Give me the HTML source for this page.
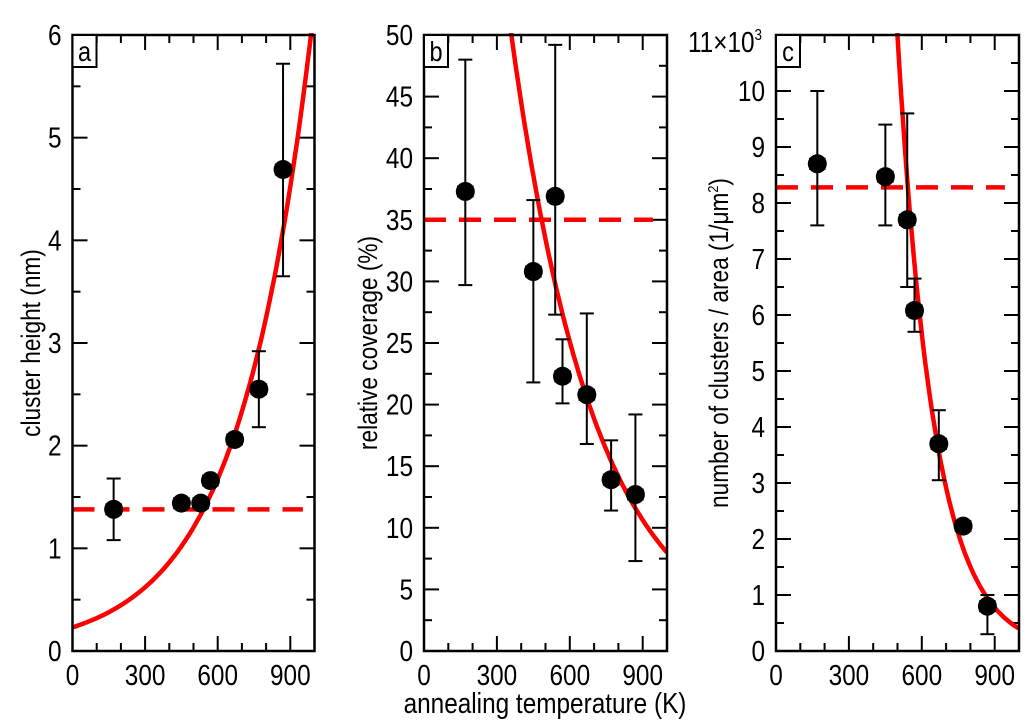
<!DOCTYPE html>
<html><head><meta charset="utf-8"><style>
body{margin:0;background:#fff}
svg{display:block}
text{font-family:"Liberation Sans",sans-serif;fill:#000}
</style></head><body>
<svg id="c" width="1024" height="724" viewBox="0 0 1024 724" xmlns="http://www.w3.org/2000/svg"></svg>
<script>
// Panel a: cluster height (nm)
const aT=[170,450,530,570,670,770,870];
const aY=[1.38,1.44,1.44,1.66,2.06,2.55,4.69];
const aLo=[1.08,1.40,1.40,1.62,2.02,2.18,3.65];
const aHi=[1.68,1.48,1.48,1.70,2.10,2.92,5.72];
const aDash=1.38;
// Panel b: relative coverage (%)
const bT=[170,450,540,570,670,770,870];
const bY=[37.3,30.8,36.9,22.3,20.8,13.9,12.7];
const bLo=[29.7,21.8,27.3,20.1,16.8,11.4,7.3];
const bHi=[48,36.6,49.2,25.3,27.4,17.1,19.2];
const bDash=35;
// Panel c: clusters / area (x1e3)
const cT=[170,450,540,570,670,770,870];
const cY=[8.7,8.47,7.7,6.08,3.7,2.23,0.8];
const cLo=[7.6,7.6,6.5,5.7,3.05,2.15,0.3];
const cHi=[10.0,9.4,9.6,6.65,4.3,2.31,1.0];
const cDash=8.28;
const xTicks=[0,300,600,900];
const aTicks=[0,1,2,3,4,5,6];
const bTicks=[0,5,10,15,20,25,30,35,40,45,50];
const cTicks=[0,1,2,3,4,5,6,7,8,9,10];
const xErr=30;

const NS="http://www.w3.org/2000/svg";
const svg=document.getElementById('c');
const SX=0.84;
function mk(tag,attrs,parent){const e=document.createElementNS(NS,tag);for(const k in attrs)e.setAttribute(k,attrs[k]);(parent||svg).appendChild(e);return e;}
function txt(x,y,size,anchor,parent,rot){
  const tr='translate('+x+','+y+')'+(rot?' rotate(-90)':'')+' scale('+SX+',1)';
  return mk('text',{x:0,y:0,'font-size':size,'text-anchor':anchor,transform:tr},parent);
}

function panel(id,x0,x1,yMax,yTicks,minorStep,T,Y,Lo,Hi,dash,dashEnd,fit,tLo,tHi,label,ytx){
  const top=35,bot=651;
  const g=mk('g',{});
  
  
  const sx=v=>x0+(v/1000)*(x1-x0);
  const sy=v=>bot-(v/yMax)*(bot-top);
  for(let v=0;v<=1000;v+=100){
    const L=(v%300===0)?15:8;
    mk('line',{x1:sx(v),x2:sx(v),y1:bot,y2:bot-L,stroke:'#000','stroke-width':2},g);
    mk('line',{x1:sx(v),x2:sx(v),y1:top,y2:top+L,stroke:'#000','stroke-width':2},g);
  }
  for(let v=0;v<=yMax+1e-9;v+=minorStep){
    const major=yTicks.some(t=>Math.abs(t-v)<1e-6);
    const L=major?15:8;
    mk('line',{x1:x0,x2:x0+L,y1:sy(v),y2:sy(v),stroke:'#000','stroke-width':2},g);
    mk('line',{x1:x1,x2:x1-L,y1:sy(v),y2:sy(v),stroke:'#000','stroke-width':2},g);
  }
  xTicks.forEach(v=>{const t=txt(sx(v),685,29,'middle',g);t.textContent=v;
    
    });
  yTicks.forEach(v=>{const t=txt(x0-11,sy(v)+10,29,'end',g);t.textContent=v;
    
    });
  const cp=mk('clipPath',{id:'cp'+id},g);mk('rect',{x:x0,y:top-2,width:x1-x0,height:bot-top+2},cp);
  const d=mk('line',{x1:x0,x2:sx(dashEnd),y1:sy(dash),y2:sy(dash),stroke:'#f00','stroke-width':4.5,'stroke-dasharray':'22 13'},g);
  
  
  let p='';for(let t=tLo;t<=tHi;t+=5){const v=fit(t);p+=(p?'L':'M')+sx(t).toFixed(1)+','+sy(v).toFixed(1);}
  const f=mk('path',{d:p,fill:'none',stroke:'#f00','stroke-width':4.5,'clip-path':'url(#cp'+id+')'},g);
  
  
  T.forEach((t,i)=>{
    const pg=mk('g',{},g);
    
    
    const cx=sx(t),cy=sy(Y[i]);
    mk('line',{x1:cx,x2:cx,y1:sy(Lo[i]),y2:sy(Hi[i]),stroke:'#000','stroke-width':2},pg);
    mk('line',{x1:cx-7,x2:cx+7,y1:sy(Lo[i]),y2:sy(Lo[i]),stroke:'#000','stroke-width':2},pg);
    mk('line',{x1:cx-7,x2:cx+7,y1:sy(Hi[i]),y2:sy(Hi[i]),stroke:'#000','stroke-width':2},pg);
    const ex1=sx(t-xErr),ex2=sx(t+xErr);
    mk('line',{x1:ex1,x2:ex2,y1:cy,y2:cy,stroke:'#000','stroke-width':2},pg);
    mk('line',{x1:ex1,x2:ex1,y1:cy-6,y2:cy+6,stroke:'#000','stroke-width':2},pg);
    mk('line',{x1:ex2,x2:ex2,y1:cy-6,y2:cy+6,stroke:'#000','stroke-width':2},pg);
    mk('circle',{cx:cx,cy:cy,r:9.5,fill:'#000'},pg);
  });
  mk('rect',{x:x0,y:top,width:x1-x0,height:bot-top,fill:'none',stroke:'#000','stroke-width':2.5},g);
  mk('rect',{x:x0,y:top,width:24,height:32,fill:'#fff',stroke:'#000','stroke-width':2},g);
  const lt=txt(x0+12,top+26,28,'middle',g);lt.textContent=label;
  
  
  const yt=txt(ytx,343,27,'middle',g,true);
  
  
  return {g,yt,sy};
}
const pa=panel('a',72.5,314.5,6,aTicks,0.5,aT,aY,aLo,aHi,aDash,952,t=>0.23*Math.exp(0.00331*t),0,1000,'a',40);
pa.yt.textContent='cluster height (nm)';
const pb=panel('b',424,667,50,bTicks,2.5,bT,bY,bLo,bHi,bDash,942,t=>140*Math.exp(-0.002864*t),330,1000,'b',377);
pb.yt.textContent='relative coverage (%)';
const pc=panel('c',776,1019,11,cTicks,0.5,cT,cY,cLo,cHi,cDash,942,t=>302.5*Math.exp(-0.00663*t),480,1000,'c',728);
pc.yt.innerHTML='number of clusters / area (1/\u03bcm<tspan dy="-10" font-size="15">2</tspan><tspan dy="10">)</tspan>';
const e=txt(762,52,29,'end');
e.innerHTML='11\u00d710<tspan dy="-12" font-size="16">3</tspan>';


const xt=txt(545,713,29,'middle');
xt.textContent='annealing temperature (K)';


</script>
</body></html>
